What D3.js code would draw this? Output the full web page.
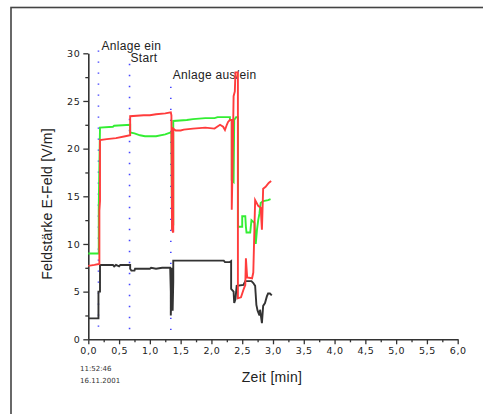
<!DOCTYPE html>
<html>
<head>
<meta charset="utf-8">
<script src="https://cdn.jsdelivr.net/npm/d3@7"></script>
<style>
  html, body { margin: 0; padding: 0; background: #fff; }
  svg { display: block; }
</style>
</head>
<body>
<svg id="chart" width="483" height="414"></svg>
<script>
// ---------- data ----------
const xTicks = [0, 0.5, 1, 1.5, 2, 2.5, 3, 3.5, 4, 4.5, 5, 5.5, 6];
const xTickLabels = ["0,0","0,5","1,0","1,5","2,0","2,5","3,0","3,5","4,0","4,5","5,0","5,5","6,0"];
const xMinorTicks = [0.25, 0.75, 1.25, 1.75, 2.25, 2.75, 3.25, 3.75, 4.25, 4.75, 5.25, 5.75];
const yTicks = [0, 5, 10, 15, 20, 25, 30];
const yTickLabels = ["0", "5", "10", "15", "20", "25", "30"];
const yMinorTicks = [2.5, 7.5, 12.5, 17.5, 22.5, 27.5];

// time [min]
const blackT = [0,0.165,0.165,0.19,0.19,0.4,0.42,0.45,0.5,0.52,0.68,0.68,0.7,0.75,0.76,1.0,1.02,1.1,1.2,1.33,1.34,1.34,1.36,1.37,1.38,1.38,2.2,2.22,2.3,2.32,2.32,2.36,2.37,2.39,2.41,2.52,2.55,2.65,2.68,2.71,2.73,2.75,2.78,2.79,2.82,2.84,2.87,2.9,2.92,2.95,2.98];
// field strength [V/m]
const blackV = [2.2,2.2,5.0,5.0,7.8,7.8,7.65,7.8,7.65,7.8,7.8,7.4,7.2,7.2,7.4,7.4,7.5,7.4,7.5,7.5,5.0,2.5,7.5,3.0,6.0,8.25,8.25,8.1,8.1,8.2,5.3,5.0,3.8,4.2,5.6,5.7,6.1,6.1,5.9,5.6,3.6,3.0,2.5,3.1,1.7,3.5,3.8,4.5,4.8,4.8,4.6];

const greenT = [0,0.17,0.17,0.19,0.4,0.42,0.68,0.68,0.75,0.84,0.92,1.1,1.25,1.34,1.35,1.36,1.38,1.38,1.6,1.7,1.9,2.05,2.1,2.3,2.3,2.33,2.33,2.36,2.37,2.4,2.43,2.43,2.5,2.5,2.55,2.56,2.57,2.63,2.65,2.7,2.72,2.74,2.76,2.78,2.8,2.84,2.92,2.96];
const greenV = [9.0,9.0,14.0,22.2,22.3,22.4,22.5,21.7,21.6,21.4,21.3,21.3,21.5,21.7,21.6,11.8,12.0,22.9,23.0,23.1,23.2,23.2,23.3,23.3,23.0,23.0,16.7,16.5,23.0,23.3,23.3,11.8,11.8,12.9,12.9,11.8,11.2,11.2,12.5,12.2,10.0,11.5,12.5,13.2,14.3,14.5,14.6,14.7];

const redT = [0,0.1,0.17,0.18,0.18,0.19,0.19,0.3,0.45,0.6,0.68,0.68,0.9,1.0,1.1,1.25,1.34,1.35,1.36,1.38,1.38,1.42,1.5,1.55,1.7,1.9,2.05,2.14,2.19,2.22,2.25,2.27,2.3,2.33,2.33,2.34,2.36,2.38,2.39,2.43,2.43,2.48,2.52,2.55,2.56,2.58,2.66,2.68,2.71,2.76,2.8,2.82,2.84,2.88,2.93,2.97];
const redV = [7.7,7.8,7.9,7.9,13.5,14.5,20.9,21.0,21.1,21.3,21.4,23.4,23.5,23.5,23.6,23.7,23.8,23.5,11.5,11.2,22.1,21.9,21.9,22.0,22.1,22.2,22.1,22.5,22.3,21.95,22.5,22.8,23.0,23.0,13.6,17.0,25.5,26.0,28.0,28.0,4.3,4.4,5.2,5.7,8.5,6.5,6.4,7.0,14.6,14.0,13.8,11.5,15.8,16.0,16.4,16.6];

// event markers
const markerT = [0.165, 0.67, 1.34];
const markerTop = [30.3, 28.9, 26.5];
const markerLabels = [["Anlage ein", "Start"], [], ["Anlage aus/ein"]];

const stampLines = ["11:52:46", "16.11.2001"];
const xTitle = "Zeit [min]";
const yTitle = "Feldstärke E-Feld [V/m]";

// ---------- drawing ----------
const svg = d3.select("#chart");
const x = d3.scaleLinear().domain([0, 6]).range([88.3, 457.7]);
const y = d3.scaleLinear().domain([0, 30]).range([339.3, 53.3]);

// outer frame
svg.append("rect")
  .attr("x", 11).attr("y", 7.5)
  .attr("width", 490).attr("height", 420)
  .attr("fill", "none").attr("stroke", "#444").attr("stroke-width", 1.6);

const fontTick = "'DejaVu Sans', sans-serif";

// axes
const yAxis = svg.append("g").attr("transform", `translate(${x(0)},0)`)
  .call(d3.axisLeft(y).tickValues(yTicks).tickSize(5).tickSizeOuter(0)
        .tickFormat((d, i) => yTickLabels[i]));
svg.append("g").attr("transform", `translate(${x(0)},0)`)
  .call(d3.axisLeft(y).tickValues(yMinorTicks).tickSize(3).tickSizeOuter(0).tickFormat(""))
  .select(".domain").remove();

const xAxis = svg.append("g").attr("transform", `translate(0,${y(0)})`)
  .call(d3.axisBottom(x).tickValues(xTicks).tickSize(5).tickSizeOuter(0)
        .tickFormat((d, i) => xTickLabels[i]));
svg.append("g").attr("transform", `translate(0,${y(0)})`)
  .call(d3.axisBottom(x).tickValues(xMinorTicks).tickSize(3).tickSizeOuter(0).tickFormat(""))
  .select(".domain").remove();

svg.selectAll(".domain").attr("stroke", "#333").attr("stroke-width", 1.6);
svg.selectAll(".tick line").attr("stroke", "#333").attr("stroke-width", 1.3);
svg.selectAll(".tick text")
  .attr("font-family", fontTick).attr("font-size", 9.5).attr("fill", "#222")
  .attr("letter-spacing", 0.6);
yAxis.selectAll(".tick text").attr("x", -8);
xAxis.selectAll(".tick text").attr("y", 8);

// marker lines
markerT.forEach((t, i) => {
  svg.append("line")
    .attr("x1", x(t)).attr("x2", x(t))
    .attr("y1", y(markerTop[i])).attr("y2", y(0.5))
    .attr("stroke", "#4646ff").attr("stroke-width", 1.6)
    .attr("stroke-dasharray", "1.4 9.6");
});
// marker labels
const labelFont = "'Liberation Sans', Arial, sans-serif";
[
  [x(markerT[0]) + 3, y(markerTop[0]) - 0.5, markerLabels[0][0]],
  [x(markerT[1]) + 1, y(markerTop[0]) + 12, markerLabels[0][1]],
  [x(markerT[2]) + 2, y(markerTop[2]) - 8, markerLabels[2][0]]
].forEach(([lx, ly, txt]) => {
  svg.append("text").attr("x", lx).attr("y", ly)
    .attr("font-family", labelFont).attr("font-size", 12)
    .attr("fill", "#222").attr("letter-spacing", 0.3)
    .text(txt);
});

// series
const line = d3.line().x(d => x(d[0])).y(d => y(d[1]));
const series = [
  { t: blackT, v: blackV, color: "#333333" },
  { t: greenT, v: greenV, color: "#33ee33" },
  { t: redT, v: redV, color: "#ff3c3c" }
];
series.forEach(s => {
  svg.append("path")
    .datum(s.t.map((t, i) => [t, s.v[i]]))
    .attr("d", line)
    .attr("fill", "none")
    .attr("stroke", s.color)
    .attr("stroke-width", 1.9)
    .attr("stroke-linejoin", "miter");
});

// titles
svg.append("text")
  .attr("x", 272).attr("y", 382)
  .attr("text-anchor", "middle")
  .attr("font-family", labelFont)
  .attr("font-size", 14).attr("fill", "#222").attr("letter-spacing", 0.3)
  .text(xTitle);
svg.append("text")
  .attr("transform", `translate(52,204) rotate(-90)`)
  .attr("text-anchor", "middle")
  .attr("font-family", labelFont)
  .attr("font-size", 14).attr("fill", "#222").attr("letter-spacing", 0.2)
  .text(yTitle);

// time stamp
stampLines.forEach((s, i) => {
  svg.append("text")
    .attr("x", 80).attr("y", 371 + i * 12)
    .attr("font-family", fontTick)
    .attr("font-size", 7).attr("fill", "#333")
    .text(s);
});
</script>
</body>
</html>
